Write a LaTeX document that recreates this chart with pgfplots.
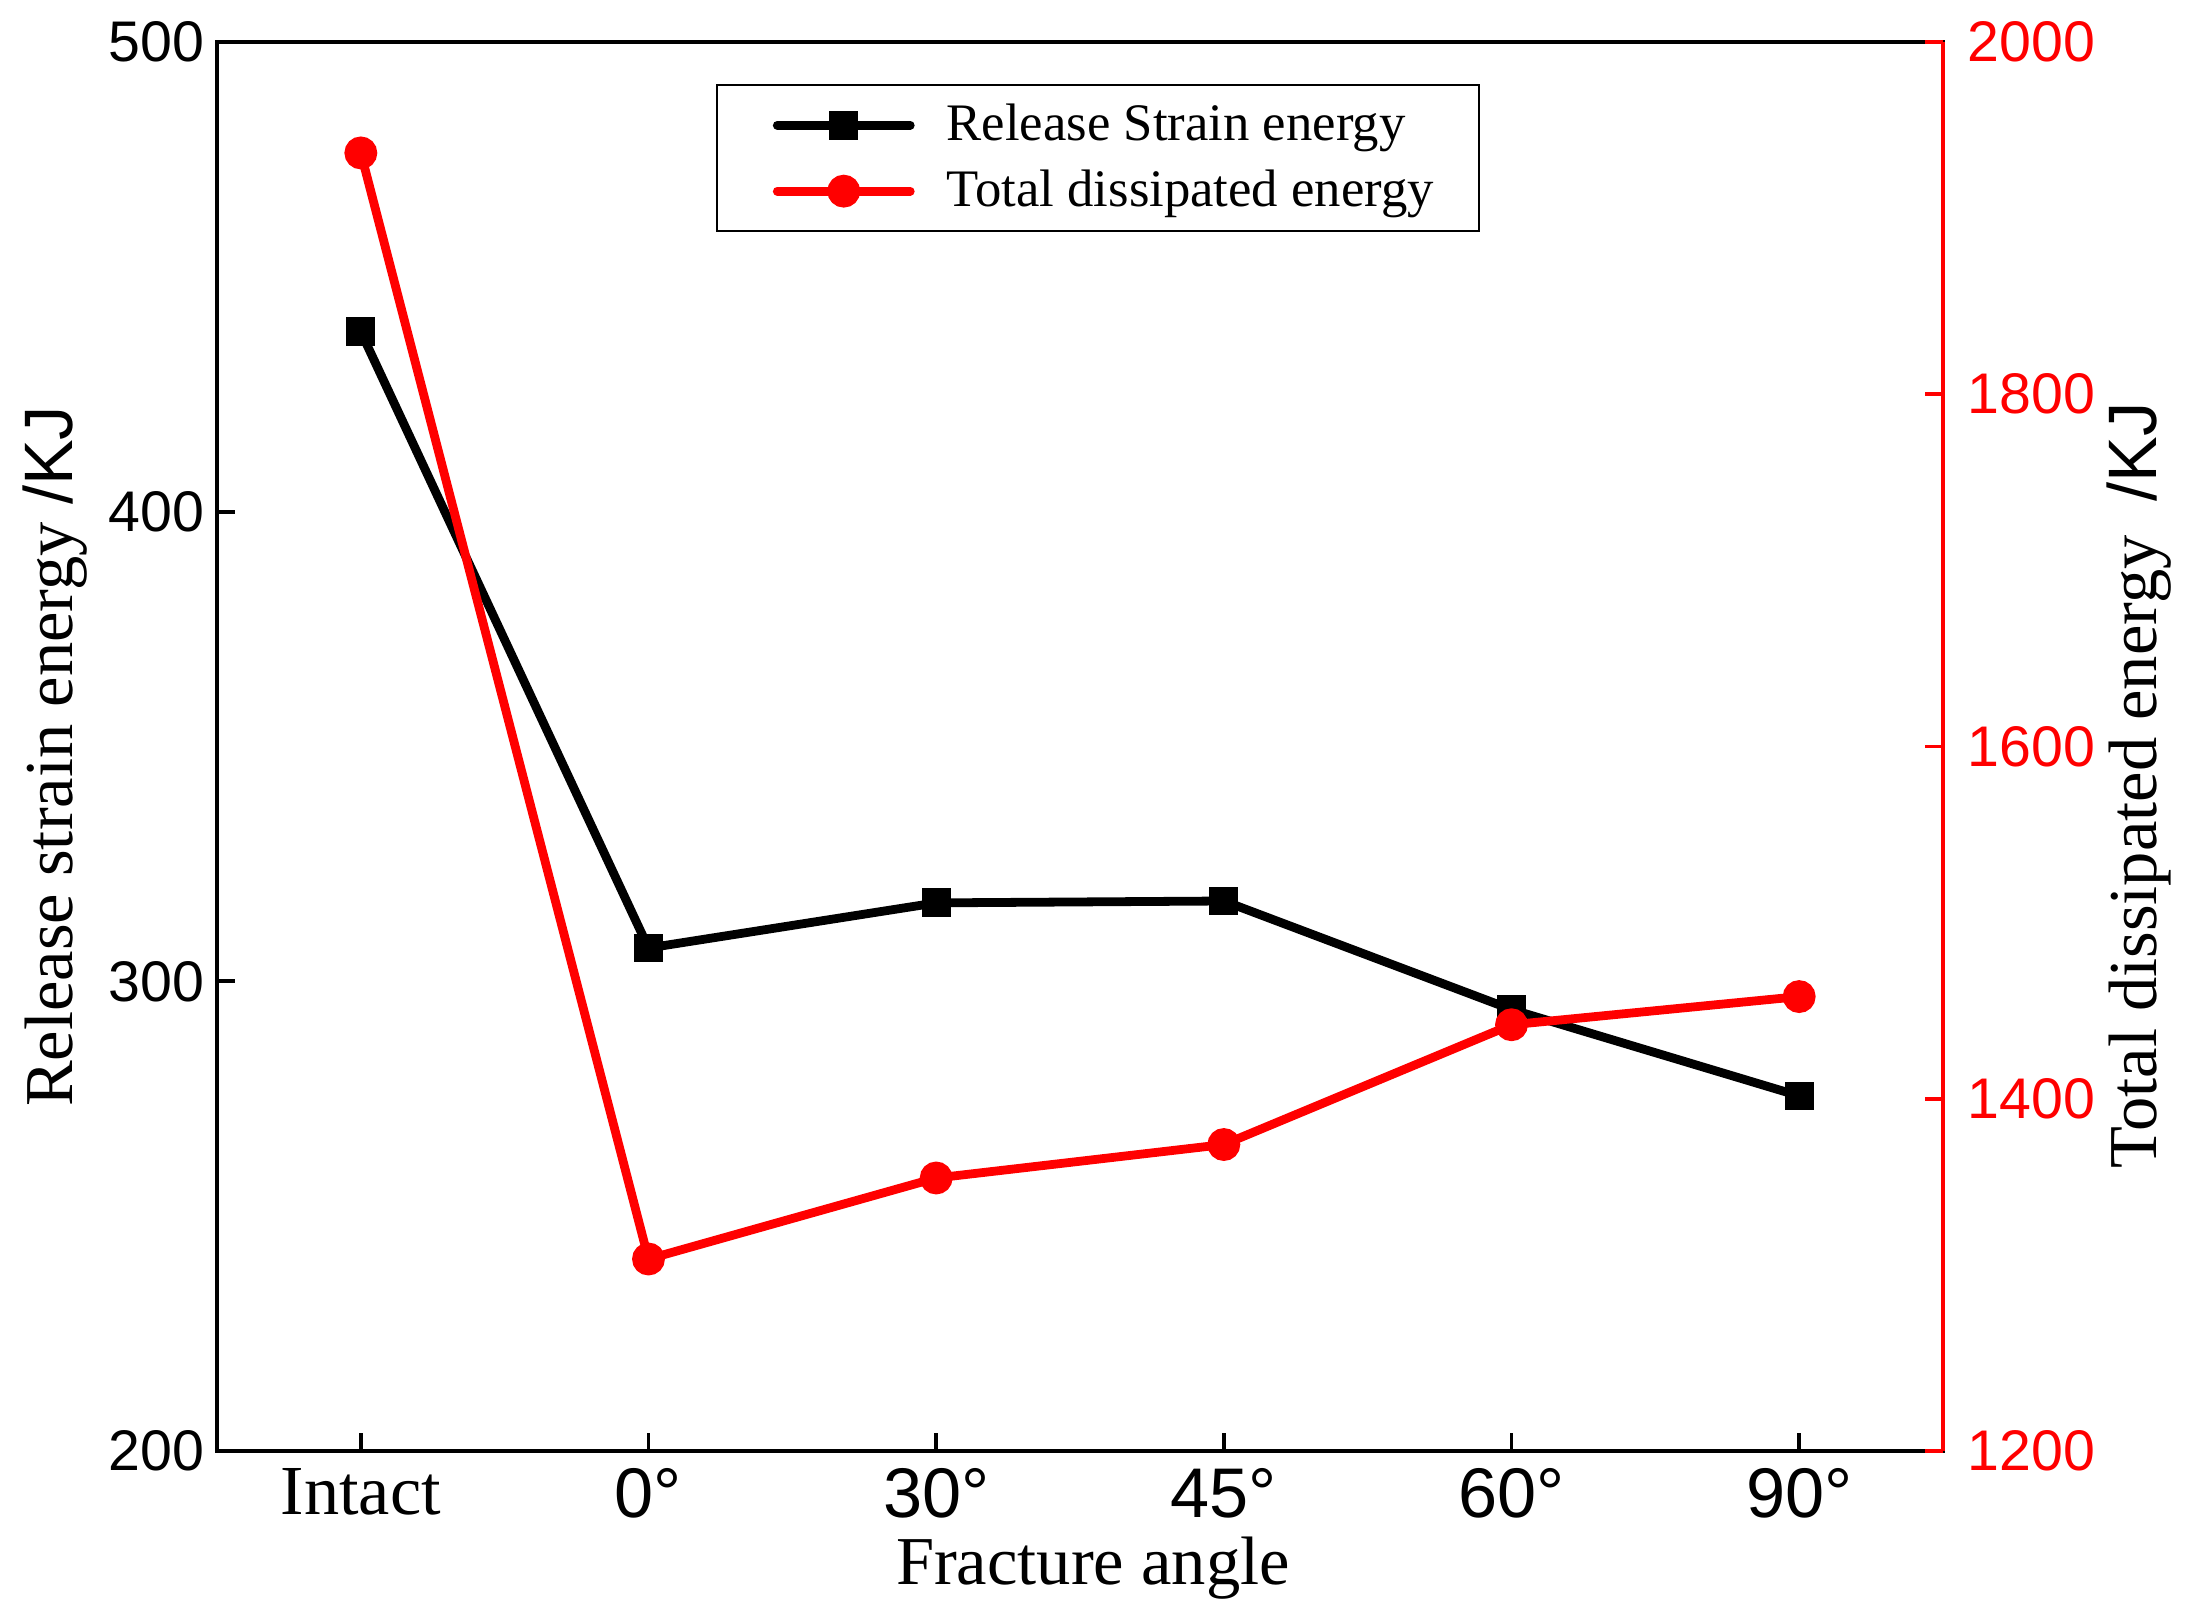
\documentclass[border=0pt]{standalone}
\usepackage{fontspec}
\setmainfont{Liberation Serif}
\newfontfamily\arial{Liberation Sans}
\usepackage{pgfplots}
\pgfplotsset{compat=1.18}

\begin{document}
\begin{tikzpicture}
\begin{axis}[
    scale only axis,
    width=17.26cm, height=14.09cm,
    xmin=-0.5, xmax=5.5,
    ymin=200, ymax=500,
    xtick={0,...,5},
    xticklabels={Intact,{\arial 0°},{\arial 30°},{\arial 45°},{\arial 60°},{\arial 90°}},
    ytick={200,300,400,500},
    xtick pos=bottom, ytick pos=left,
    tick align=inside,
    major tick length=0.18cm,
    minor tick num=0,
    axis line style={line width=1.1pt},
    every tick/.style={line width=1.1pt, black},
    /pgf/number format/assume math mode=true,
    yticklabel style={font=\arial\fontsize{16.3}{19}\selectfont},
    xticklabel style={font=\fontsize{20}{24}\selectfont, yshift=-0.05cm},
    xlabel={Fracture angle},
    ylabel={Release strain energy {\arial/KJ}},
    label style={font=\fontsize{19.5}{23}\selectfont, inner sep=0pt},
    xlabel style={yshift=-0.06cm, xshift=0.13cm},
    ylabel style={yshift=0.09cm, xshift=-0.1cm},
    legend style={at={(0.289,0.970)}, anchor=north west,
        draw=black, line width=0.6pt,
        font=\fontsize{15}{18}\selectfont,
        inner xsep=0.38cm, inner ysep=0.12cm, row sep=0.1cm,
        cells={anchor=west},
        /tikz/every odd column/.append style={column sep=0.25cm}},
    legend image code/.code={
        \path (-0.18cm,0cm);
        \draw[#1, line cap=round, mark repeat=2, mark phase=2]
            plot coordinates {(0cm,0cm) (0.665cm,0cm) (1.33cm,0cm)};
    },
]
\addplot[black, line width=2.5pt, mark=square*, mark size=0.1cm,
    mark options={solid}]
coordinates {
    (0, 438.3)
    (1, 307.1)
    (2, 316.7)
    (3, 317.1)
    (4, 294.0)
    (5, 275.6)
};
\addlegendentry{Release Strain energy}
\addlegendimage{red, line width=2.5pt, mark=*, mark size=0.12cm}
\addlegendentry{Total dissipated energy}
\end{axis}

\begin{axis}[
    scale only axis,
    width=17.26cm, height=14.09cm,
    xmin=-0.5, xmax=5.5,
    ymin=1200, ymax=2000,
    axis x line=none,
    axis y line*=right,
    ytick={1200,1400,1600,1800,2000},
    tick align=inside,
    major tick length=0.18cm,
    y axis line style={red, line width=1.1pt, -},
    every tick/.style={line width=1.1pt, red},
    /pgf/number format/assume math mode=true,
    /pgf/number format/1000 sep={},
    yticklabel style={font=\arial\fontsize{16.3}{19}\selectfont, text=red, xshift=0.12cm},
    ylabel={Total dissipated energy\ \ {\arial/KJ}},
    ylabel style={font=\fontsize{19.5}{23}\selectfont, inner sep=0pt,
        yshift=0cm, xshift=-0.39cm},
]
\addplot[red, line width=2.5pt, mark=*, mark size=0.12cm]
coordinates {
    (0, 1937)
    (1, 1309)
    (2, 1355)
    (3, 1374)
    (4, 1442)
    (5, 1458)
};
\end{axis}
\path[use as bounding box]
    ([xshift=-2.17cm, yshift=-1.71cm]current axis.south west)
    rectangle ([xshift=2.47cm, yshift=0.42cm]current axis.north east);
\end{tikzpicture}
\end{document}
